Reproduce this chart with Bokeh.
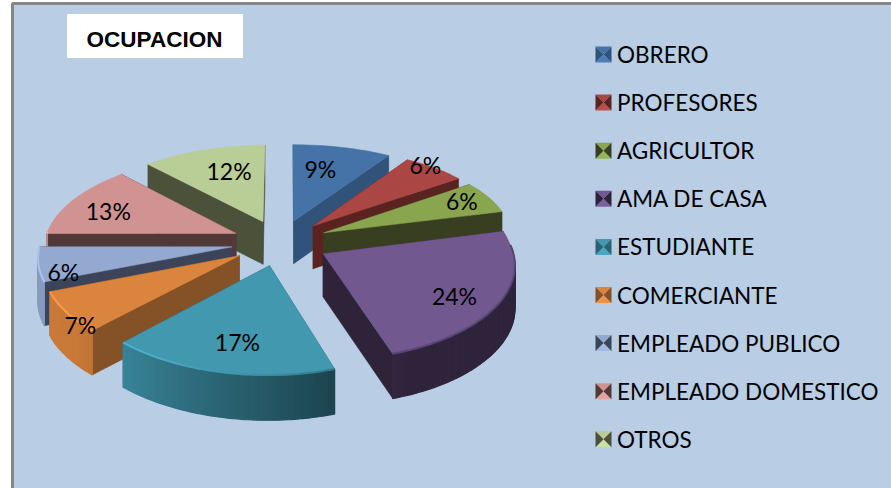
import math
from bokeh.plotting import figure
from bokeh.models import Range1d
from bokeh.core.properties import value
from bokeh.embed import file_html
from bokeh.resources import INLINE

# ---- data ----
categories = ["OBRERO", "PROFESORES", "AGRICULTOR", "AMA DE CASA", "ESTUDIANTE",
              "COMERCIANTE", "EMPLEADO PUBLICO", "EMPLEADO DOMESTICO", "OTROS"]
shares = [9, 6, 6, 24, 17, 7, 6, 13, 12]
chart_title = "OCUPACION"

# ---- styles ----
top_colors = ["#4573A7", "#AA4644", "#89A54E", "#71588F", "#4198AF", "#DB843D", "#93A9CF", "#D19392", "#B9CD96"]
cut_colors = ["#315379", "#5A2320", "#383F20", "#2E2338", "#2A6272", "#845226", "#3C4459", "#533838", "#4C5239"]
BG = "#B9CDE5"
FRAME = "#868686"
W, H = 891, 488

# ---- projection of the tilted pie ----
CX, CY = 280, 242
R = 188
EXPL = 48
K = 0.48
PERSP = 0.12
DEPTH = 43
label_nudge = [(-8, 1), (26, -20), (22, -7), (9, 10), (1, 5), (-40, 31), (-34, 13), (-12, 1), (9, 1)]


def project(X, Z, drop=False):
    s = 1.0 / (1.0 + PERSP * Z / R)
    if Z > 0:
        sx = 1.0 / (1.0 + (0.05 if X > 0 else 0.13) * Z / R)
    else:
        sx = 1.0 / (1.0 + 0.10 * Z / R)
    if X < 0:
        sx *= 1.02
    x = CX + X * sx
    y = CY - K * Z * s
    if drop:
        y += DEPTH * s ** 0.3
    return x, y


def shade(hex_color, f):
    r, g, b = (int(hex_color[i:i + 2], 16) for i in (1, 3, 5))
    return "#%02X%02X%02X" % (min(255, int(r * f)), min(255, int(g * f)), min(255, int(b * f)))


def rim_factor(deg):
    t = (deg - 162.0) / (223.0 - 162.0)
    return max(0.42, min(0.92, 0.45 + 0.42 * t))


def bevel_factor(deg):
    t = max(0.0, min(1.0, (deg - 162.0) / 55.0))
    return 0.8 + 0.38 * t


total = float(sum(shares))
starts, mids, ends = [], [], []
acc = 0.0
for v in shares:
    a0 = acc / total * 360
    acc += v
    a1 = acc / total * 360
    starts.append(a0)
    ends.append(a1)
    mids.append((a0 + a1) / 2)

p = figure(width=W, height=H, x_range=Range1d(0, W), y_range=Range1d(H, 0),
           toolbar_location=None, output_backend="svg", min_border=0,
           background_fill_color="white", border_fill_color="white")
p.axis.visible = False
p.grid.visible = False
p.outline_line_color = None

# chart area frame
p.quad(left=[12], right=[W + 30], top=[3], bottom=[H + 30], fill_color=BG, line_color=FRAME, line_width=3)

order = sorted(range(len(shares)), key=lambda i: -math.cos(math.radians(mids[i])))
for i in order:
    m = math.radians(mids[i])
    ox, oz = EXPL * math.sin(m), EXPL * math.cos(m)
    n = max(6, int(ends[i] - starts[i]))
    degs = [starts[i] + (ends[i] - starts[i]) * j / n for j in range(n + 1)]
    arc = [(ox + R * math.sin(math.radians(d)), oz + R * math.cos(math.radians(d))) for d in degs]

    # cut faces
    for (X, Z) in (arc[0], arc[-1]):
        a, b = project(ox, oz), project(X, Z)
        c, d = project(X, Z, True), project(ox, oz, True)
        p.patch([a[0], b[0], c[0], d[0]], [a[1], b[1], c[1], d[1]],
                fill_color=cut_colors[i], line_color=cut_colors[i], line_width=0.5)
    # rim, shaded strip by strip: only the part that faces the viewer
    xs, ys, cols = [], [], []
    for j in range(n):
        md = (degs[j] + degs[j + 1]) / 2
        if not 85 < md < 271:
            continue
        a, b = project(*arc[j]), project(*arc[j + 1])
        c, d = project(*arc[j + 1], True), project(*arc[j], True)
        xs.append([a[0], b[0], c[0], d[0]])
        ys.append([a[1], b[1], c[1], d[1]])
        cols.append(shade(top_colors[i], rim_factor(md)))
    if xs:
        p.patches(xs, ys, fill_color=cols, line_color=cols, line_width=1.2)
    # top face
    pts = [project(ox, oz)] + [project(*q) for q in arc]
    p.patch([q[0] for q in pts], [q[1] for q in pts], fill_color=top_colors[i], line_color=top_colors[i], line_width=0.5)
    # bevel along the rim
    hx, hy, hc = [], [], []
    for j in range(n):
        md = (degs[j] + degs[j + 1]) / 2
        if 85 < md < 271:
            a, b = project(*arc[j]), project(*arc[j + 1])
            hx.append([a[0], b[0]])
            hy.append([a[1], b[1]])
            hc.append(shade(top_colors[i], bevel_factor(md)))
    if hx:
        p.multi_line(hx, hy, line_color=hc, line_width=2)

# percent labels
lx, ly, lt = [], [], []
for i, v in enumerate(shares):
    m = math.radians(mids[i])
    rr = 0.7 * R + EXPL
    x, y = project(rr * math.sin(m), rr * math.cos(m))
    lx.append(x + label_nudge[i][0])
    ly.append(y + label_nudge[i][1])
    lt.append("%d%%" % round(v / total * 100))
p.text(lx, ly, text=lt, text_font=value("Lato"), text_font_size="23px", text_color="#000000",
       text_align="center", text_baseline="middle")

# title box
p.quad(left=[67], right=[242], top=[14], bottom=[57], fill_color="white", line_color="white")
p.text([154], [39], text=[chart_title], text_font=value("Liberation Sans"), text_font_style="bold",
       text_font_size="22.5px", text_color="#000000", text_align="center", text_baseline="middle")

# legend
LEG_X, LEG_Y, LEG_STEP, KEY = 595, 54, 48.1, 16
for i, name in enumerate(categories):
    yc = LEG_Y + i * LEG_STEP
    x0, x1, y0, y1 = LEG_X, LEG_X + KEY, yc - KEY / 2, yc + KEY / 2
    xm, ym = (x0 + x1) / 2, (y0 + y1) / 2
    p.patches([[x0, x1, xm], [x0, x1, xm], [x0, x0, xm], [x1, x1, xm]],
              [[y0, y0, ym], [y1, y1, ym], [y0, y1, ym], [y0, y1, ym]],
              fill_color=[top_colors[i], shade(top_colors[i], 1.1), cut_colors[i], cut_colors[i]],
              line_color=None)
p.text([616.5] * len(categories), [LEG_Y + i * LEG_STEP for i in range(len(categories))], text=categories,
       text_font=value("Lato"), text_font_size="22.5px", text_color="#000000",
       text_align="left", text_baseline="middle")

open("out.html", "w").write(file_html(p, INLINE))
